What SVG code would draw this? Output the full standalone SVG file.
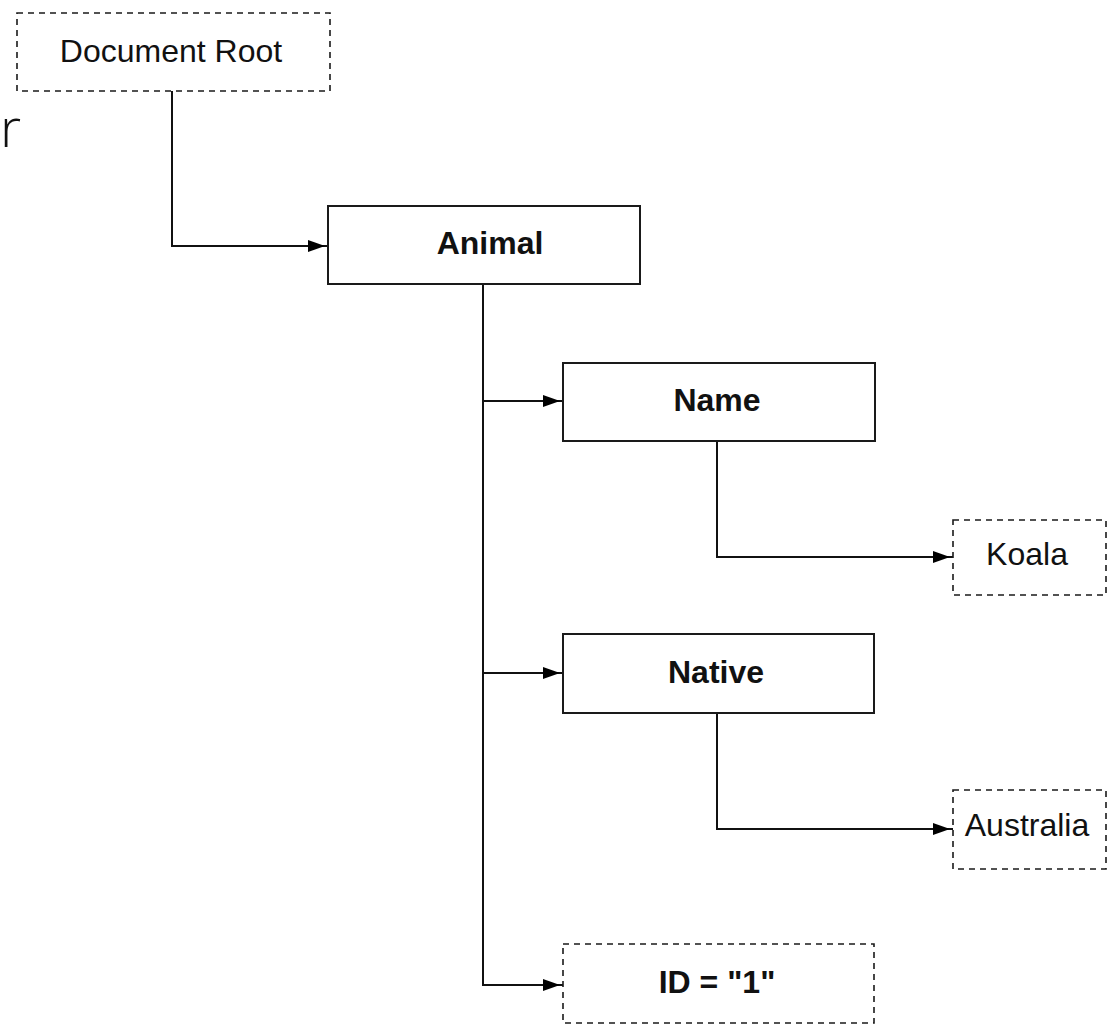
<svg xmlns="http://www.w3.org/2000/svg" width="1109" height="1025" viewBox="0 0 1109 1025">
<style>
.bg{fill:#fff}
.solid{fill:#fff;stroke:#1a1a1a;stroke-width:2}
.dash{fill:#fff;stroke:#1a1a1a;stroke-width:1.6;stroke-dasharray:6 5}
.conn{fill:none;stroke:#111;stroke-width:2}
.t{font-family:"Liberation Sans",Arial,sans-serif;font-size:32px;text-anchor:middle;fill:#111}
.b{font-weight:bold}
</style>
<defs>
<marker id="ah" markerUnits="userSpaceOnUse" viewBox="0 0 20 14" markerWidth="20" markerHeight="14" refX="20" refY="7" orient="auto">
<path d="M0,1 L17,7 L0,13 z" fill="#000"/>
</marker>
</defs>
<rect class="bg" x="0" y="0" width="1109" height="1025"/>
<text x="0" y="147" style="font-family:'Open Sans',sans-serif;font-weight:300;font-size:54px;fill:#111">r</text>
<g id="connectors">
<path class="conn" d="M172,91 V246 H328" marker-end="url(#ah)"/>
<path class="conn" d="M483,284 V985 H563" marker-end="url(#ah)"/>
<path class="conn" d="M483,401 H563" marker-end="url(#ah)"/>
<path class="conn" d="M483,673 H563" marker-end="url(#ah)"/>
<path class="conn" d="M717,441 V557 H953" marker-end="url(#ah)"/>
<path class="conn" d="M717,713 V829 H953" marker-end="url(#ah)"/>
</g>
<g id="document-root">
<rect class="dash" x="17" y="13" width="313" height="78"/>
<text class="t" x="171" y="62">Document Root</text>
</g>
<g id="animal">
<rect class="solid" x="328" y="206" width="312" height="78"/>
<text class="t b" x="490" y="254">Animal</text>
</g>
<g id="name">
<rect class="solid" x="563" y="363" width="312" height="78"/>
<text class="t b" x="717" y="411">Name</text>
</g>
<g id="koala">
<rect class="dash" x="953" y="520" width="153" height="75"/>
<text class="t" x="1027" y="565">Koala</text>
</g>
<g id="native">
<rect class="solid" x="563" y="634" width="311" height="79"/>
<text class="t b" x="716" y="683">Native</text>
</g>
<g id="australia">
<rect class="dash" x="953" y="790" width="153" height="79"/>
<text class="t" x="1027" y="836">Australia</text>
</g>
<g id="id-attr">
<rect class="dash" x="563" y="944" width="311" height="79"/>
<text class="t b" x="717" y="993">ID = "1"</text>
</g>
</svg>
